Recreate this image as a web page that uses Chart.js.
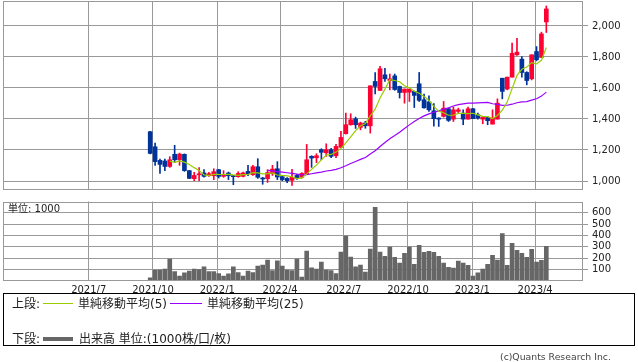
<!DOCTYPE html>
<html lang="ja">
<head>
<meta charset="utf-8">
<script src="https://cdn.jsdelivr.net/npm/chart.js@4.4.1/dist/chart.umd.min.js"></script>
<style>
  body { margin: 0; width: 638px; height: 362px; background: #fff; position: relative; overflow: hidden;
         font-family: "DejaVu Sans", "Noto Sans CJK JP", sans-serif; color: #222; }
  canvas { position: absolute; left: 0; }
  #price { top: 0; }
  #volume { top: 195px; }
  .unit { position: absolute; left: 8px; top: 203px; font-size: 10px; line-height: 12px; }
  .legend { position: absolute; left: 3px; top: 293px; width: 630px; height: 51px; border: 1px solid #000; font-size: 12px; line-height: 14px; }
  .legend span { position: absolute; white-space: nowrap; }
  .legend .sw { height: 1px; width: 30px; }
  .copy { position: absolute; left: 500px; top: 351px; font-size: 9.3px; line-height: 12px; color: #444; }
</style>
</head>
<body>
<canvas id="price" width="638" height="192"></canvas>
<canvas id="volume" width="638" height="100"></canvas>
<div class="unit">単位: 1000</div>
<div class="legend">
  <span style="left:8px; top:3px">上段:</span>
  <span class="sw" style="left:39px; top:9px; background:#99cc00"></span>
  <span style="left:74px; top:3px">単純移動平均(5)</span>
  <span class="sw" style="left:166px; top:9px; width:32px; background:#9900ff"></span>
  <span style="left:203px; top:3px">単純移動平均(25)</span>
  <span style="left:8px; top:38px">下段:</span>
  <span class="sw" style="left:39px; top:43px; height:4px; background:#666"></span>
  <span style="left:75px; top:38px">出来高 単位:(1000株/口/枚)</span>
</div>
<div class="copy">(c)Quants Research Inc.</div>
<script>
// weekly candles, week start dates
const weeks = [
  '2021-09-27', '2021-10-04', '2021-10-11', '2021-10-18', '2021-10-25', '2021-11-01', '2021-11-08',
  '2021-11-15', '2021-11-22', '2021-11-29', '2021-12-06', '2021-12-13', '2021-12-20', '2021-12-27',
  '2022-01-03', '2022-01-10', '2022-01-17', '2022-01-24', '2022-01-31', '2022-02-07', '2022-02-14',
  '2022-02-21', '2022-02-28', '2022-03-07', '2022-03-14', '2022-03-21', '2022-03-28', '2022-04-04',
  '2022-04-11', '2022-04-18', '2022-04-25', '2022-05-02', '2022-05-09', '2022-05-16', '2022-05-23',
  '2022-05-30', '2022-06-06', '2022-06-13', '2022-06-20', '2022-06-27', '2022-07-04', '2022-07-11',
  '2022-07-18', '2022-07-25', '2022-08-01', '2022-08-08', '2022-08-15', '2022-08-22', '2022-08-29',
  '2022-09-05', '2022-09-12', '2022-09-19', '2022-09-26', '2022-10-03', '2022-10-10', '2022-10-17',
  '2022-10-24', '2022-10-31', '2022-11-07', '2022-11-14', '2022-11-21', '2022-11-28', '2022-12-05',
  '2022-12-12', '2022-12-19', '2022-12-26', '2023-01-02', '2023-01-09', '2023-01-16', '2023-01-23',
  '2023-01-30', '2023-02-06', '2023-02-13', '2023-02-20', '2023-02-27', '2023-03-06', '2023-03-13',
  '2023-03-20', '2023-03-27', '2023-04-03', '2023-04-10', '2023-04-17'
]

const open = [
  1318, 1221, 1133, 1129, 1094, 1172, 1137, 1172, 1067, 1015,
  1040, 1052, 1034, 1034, 1073, 1030, 1052, 1034, 1028, 1030,
  1062, 1041, 1092, 1019, 1015, 1047, 1079, 1028, 1017, 1004,
  1036, 1024, 1047, 1159, 1150, 1202, 1182, 1202, 1163, 1217,
  1305, 1363, 1401, 1346, 1374, 1356, 1642, 1584, 1685, 1648,
  1678, 1610, 1571, 1573, 1578, 1627, 1524, 1511, 1453, 1406,
  1417, 1466, 1399, 1449, 1438, 1399, 1466, 1427, 1399, 1410,
  1367, 1399, 1663, 1593, 1670, 1814, 1786, 1700, 1659, 1835,
  1797, 2026
]
const high = [
  1320, 1245, 1142, 1142, 1157, 1230, 1180, 1175, 1069, 1056,
  1086, 1073, 1056, 1079, 1075, 1067, 1058, 1036, 1060, 1058,
  1101, 1101, 1144, 1024, 1073, 1101, 1125, 1034, 1022, 1075,
  1043, 1054, 1236, 1163, 1176, 1208, 1240, 1210, 1236, 1320,
  1438, 1434, 1412, 1380, 1385, 1614, 1700, 1739, 1727, 1690,
  1690, 1612, 1594, 1595, 1580, 1700, 1560, 1550, 1500, 1408,
  1513, 1470, 1477, 1470, 1459, 1477, 1468, 1438, 1412, 1416,
  1459, 1530, 1663, 1670, 1889, 1921, 1803, 1705, 1814, 1867,
  1960, 2129
]
const low = [
  1175, 1101, 1049, 1067, 1088, 1120, 1101, 1062, 1015, 1002,
  1002, 1025, 1030, 1009, 1019, 1024, 1009, 976, 1024, 1026,
  1034, 1036, 1017, 979, 991, 1036, 1009, 1002, 989, 972,
  1011, 1019, 1045, 1088, 1118, 1137, 1159, 1150, 1150, 1215,
  1303, 1360, 1339, 1330, 1340, 1309, 1562, 1584, 1642, 1588,
  1585, 1535, 1502, 1513, 1474, 1513, 1470, 1449, 1354, 1352,
  1412, 1384, 1384, 1440, 1363, 1399, 1402, 1399, 1369, 1363,
  1367, 1399, 1530, 1588, 1670, 1810, 1670, 1620, 1652, 1775,
  1797, 1958
]
const close = [
  1178, 1125, 1107, 1094, 1137, 1137, 1174, 1067, 1017, 1036,
  1045, 1030, 1047, 1060, 1030, 1043, 1034, 1028, 1049, 1052,
  1047, 1092, 1024, 1013, 1054, 1077, 1026, 1009, 1002, 1024,
  1017, 1049, 1137, 1148, 1163, 1185, 1202, 1159, 1223, 1281,
  1363, 1395, 1363, 1374, 1356, 1614, 1610, 1724, 1659, 1659,
  1590, 1571, 1593, 1592, 1552, 1520, 1472, 1459, 1402, 1399,
  1470, 1391, 1459, 1459, 1399, 1466, 1402, 1406, 1412, 1389,
  1406, 1502, 1578, 1670, 1824, 1831, 1700, 1648, 1814, 1782,
  1949, 2110
]
const volume = [
  24, 94, 94, 103, 191, 79, 41, 68, 85, 103,
  97, 121, 79, 79, 62, 41, 59, 121, 71, 41,
  85, 71, 129, 138, 182, 88, 174, 129, 94, 88,
  191, 32, 262, 112, 103, 165, 94, 88, 62, 253,
  394, 209, 121, 138, 76, 279, 648, 253, 215, 297,
  207, 155, 241, 297, 145, 312, 250, 260, 250, 215,
  154, 118, 110, 172, 154, 136, 40, 68, 101, 145,
  224, 181, 417, 136, 329, 268, 241, 206, 276, 163,
  180, 303
]

const monthTicks = ['2021-07-01', '2021-10-01', '2022-01-01', '2022-04-01', '2022-07-01', '2022-10-01', '2023-01-01', '2023-04-01']
const monthLabels = ['2021/7', '2021/10', '2022/1', '2022/4', '2022/7', '2022/10', '2023/1', '2023/4']
const priceTicks = [1000, 1200, 1400, 1600, 1800, 2000]
const volumeTicks = [100, 200, 300, 400, 500, 600]

const UP = '#ff0033'
const DOWN = '#003399'
const GRID = '#999999'

Chart.defaults.font.family = '"DejaVu Sans", "Noto Sans CJK JP", sans-serif'
Chart.defaults.color = '#222'

// x in weeks counted from the first candle
const weekMs = 7 * 24 * 3600 * 1000
const t0 = Date.parse(weeks[0])
const monthPos = monthTicks.map(d => (Date.parse(d) - t0) / weekMs)
const xMin = -30.1
const xMax = 88.5

const colors = close.map((c, i) => c >= open[i] ? UP : DOWN)
const wicks = weeks.map((w, i) => ({ x: i, y: [low[i], high[i]] }))
const bodies = weeks.map((w, i) => ({ x: i, y: [open[i], close[i]] }))

function sma (n) {
  const out = []
  for (let i = n - 1; i < close.length; i++) {
    let s = 0
    for (let j = i - n + 1; j <= i; j++) s += close[j]
    out.push({ x: i, y: s / n })
  }
  return out
}

const frame = {
  id: 'frame',
  afterDraw (chart) {
    const { ctx, chartArea: a } = chart
    ctx.save()
    ctx.strokeStyle = GRID
    ctx.lineWidth = 1
    ctx.strokeRect(Math.round(a.left) + 0.5, Math.round(a.top) + 0.5,
      Math.round(a.right) - Math.round(a.left) - 1, Math.round(a.bottom) - Math.round(a.top) - 1)
    ctx.restore()
  }
}

function xScale (showLabels, height) {
  return {
    type: 'linear',
    min: xMin,
    max: xMax,
    offset: false,
    grid: { color: GRID, offset: false, drawTicks: false },
    border: { display: false },
    ticks: {
      display: showLabels,
      autoSkip: false,
      maxRotation: 0,
      padding: 4,
      font: { size: 10 },
      color: '#222',
      callback: (v, i) => monthLabels[i]
    },
    afterBuildTicks: s => { s.ticks = monthPos.map(v => ({ value: v })) },
    afterFit: s => { s.height = height; s.paddingLeft = 0; s.paddingRight = 0 }
  }
}

function yScale (min, max, tickList, fmt) {
  return {
    position: 'right',
    min: min,
    max: max,
    grid: { color: GRID, tickLength: 5 },
    border: { display: false },
    ticks: { font: { size: 10 }, color: '#222', padding: 4, callback: fmt },
    afterBuildTicks: s => { s.ticks = tickList.map(v => ({ value: v })) },
    afterFit: s => { s.width = 55; s.paddingTop = 0; s.paddingBottom = 0 }
  }
}

new Chart(document.getElementById('price'), {
  type: 'bar',
  data: {
    datasets: [
      { type: 'line', data: sma(5), borderColor: '#99cc00', borderWidth: 1.2, pointRadius: 0, order: 0 },
      { type: 'line', data: sma(25), borderColor: '#9900ff', borderWidth: 1.2, pointRadius: 0, order: 0 },
      { data: wicks, backgroundColor: colors, barThickness: 1, grouped: false, order: 2 },
      { data: bodies, backgroundColor: colors, barThickness: 4, grouped: false, minBarLength: 1, order: 1 }
    ]
  },
  options: {
    responsive: false,
    animation: false,
    devicePixelRatio: 1,
    layout: { padding: { left: 3, top: 1, right: 0, bottom: 0 } },
    plugins: { legend: { display: false }, tooltip: { enabled: false } },
    scales: {
      x: xScale(false, 2),
      y: yScale(942, 2161, priceTicks, v => v.toLocaleString('en-US'))
    }
  },
  plugins: [frame]
})

new Chart(document.getElementById('volume'), {
  type: 'bar',
  data: {
    datasets: [
      { data: weeks.map((w, i) => ({ x: i, y: volume[i] })), backgroundColor: '#666666', barThickness: 4 }
    ]
  },
  options: {
    responsive: false,
    animation: false,
    devicePixelRatio: 1,
    layout: { padding: { left: 3, top: 6.5, right: 0, bottom: 0 } },
    plugins: { legend: { display: false }, tooltip: { enabled: false } },
    scales: {
      x: xScale(true, 14.4),
      y: yScale(0, 700, volumeTicks, v => v)
    }
  },
  plugins: [frame]
})
</script>
</body>
</html>
